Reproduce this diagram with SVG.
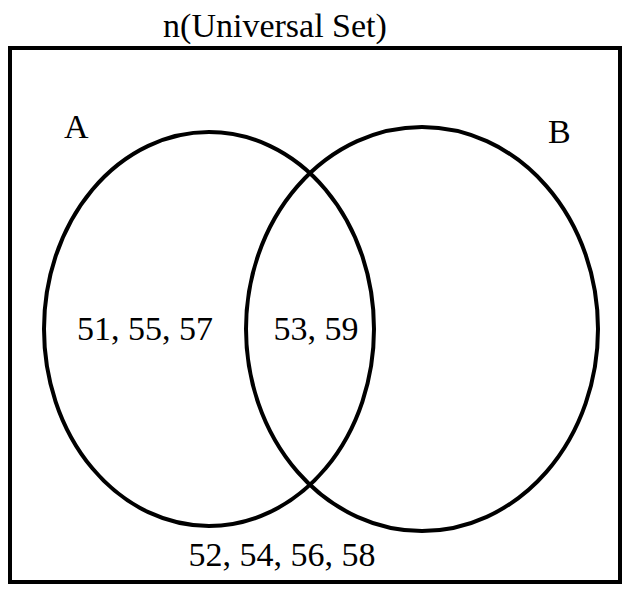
<svg xmlns="http://www.w3.org/2000/svg" width="628" height="595" viewBox="0 0 628 595">
<style>
.s{fill:none;stroke:#000;stroke-width:4}
text{font-family:"Liberation Serif",serif;font-size:34px;fill:#000}
</style>
<rect width="628" height="595" fill="#fff"/>
<g id="universe"><rect class="s" x="10" y="48" width="610" height="534"/>
<text x="275" y="37" text-anchor="middle">n(Universal Set)</text>
<text x="282" y="566" text-anchor="middle">52, 54, 56, 58</text></g>
<g id="setA"><ellipse class="s" cx="209" cy="329" rx="165" ry="197"/>
<text x="64" y="138">A</text>
<text x="145" y="340" text-anchor="middle">51, 55, 57</text></g>
<g id="setB"><ellipse class="s" cx="422" cy="329" rx="176" ry="202"/>
<text x="548" y="143">B</text></g>
<g id="intersection"><text x="316" y="340" text-anchor="middle">53, 59</text></g>
<g id="connectors"/>
</svg>
